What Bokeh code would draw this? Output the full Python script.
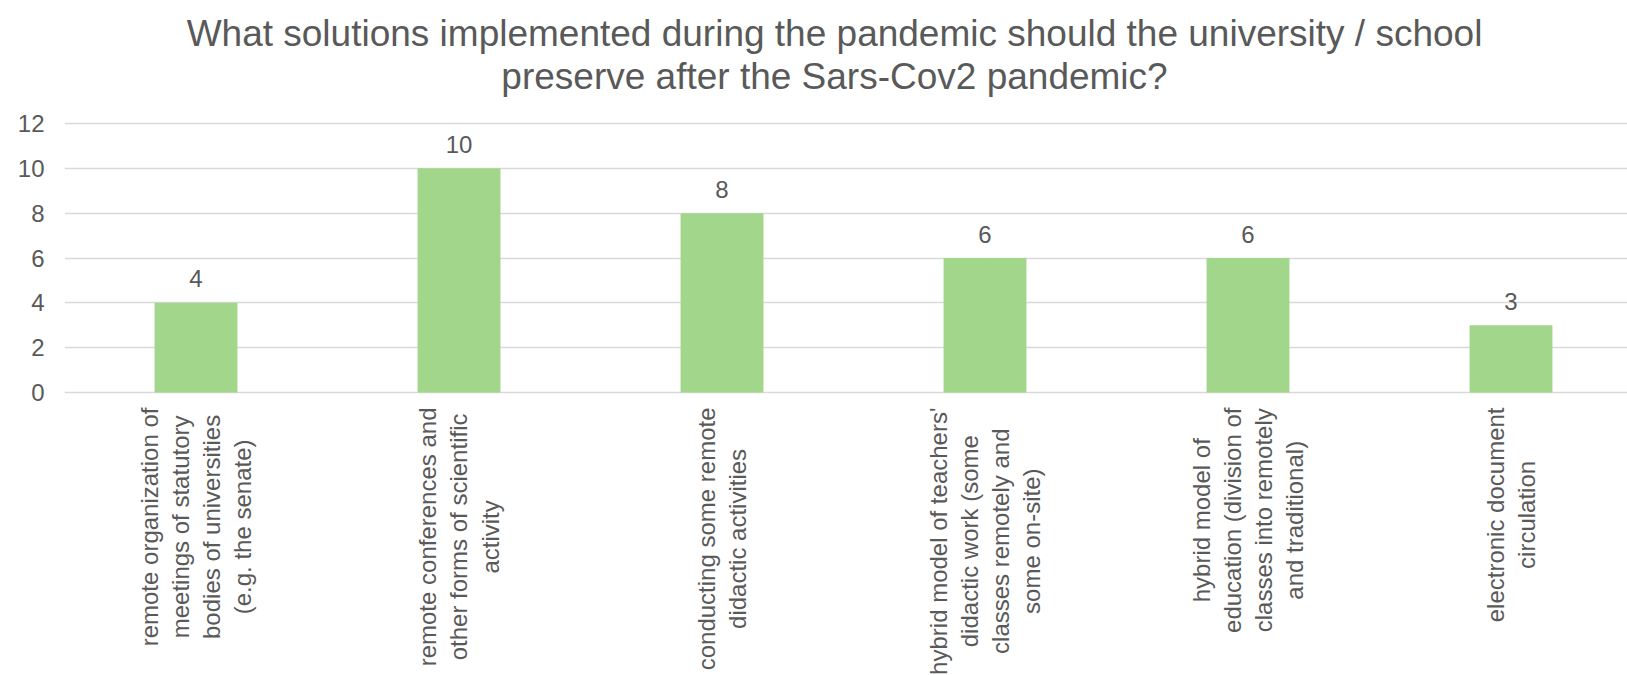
from bokeh.plotting import figure
from bokeh.models import ColumnDataSource, Range1d, FixedTicker
from bokeh.core.properties import value
from bokeh.embed import file_html
from bokeh.resources import INLINE
import math

title_lines = [
    "What solutions implemented during the pandemic should the university / school",
    "preserve after the Sars-Cov2 pandemic?",
]
categories = [
    "remote organization of\nmeetings of statutory\nbodies of universities\n(e.g. the senate)",
    "remote conferences and\nother forms of scientific\nactivity",
    "conducting some remote\ndidactic activities",
    "hybrid model of teachers'\ndidactic work (some\nclasses remotely and\nsome on-site)",
    "hybrid model of\neducation (division of\nclasses into remotely\nand traditional)",
    "electronic document\ncirculation",
]
values = [4, 10, 8, 6, 6, 3]
y_ticks = [0, 2, 4, 6, 8, 10, 12]

FONT = "Liberation Sans"
GRAY = "#595959"
W, H = 1627, 675
LEFT = 64
PLOT_TOP, PLOT_BOTTOM = 123, 392      # pixel rows of the 12 and 0 gridlines
CAT_PX = 263.0
frame_w = W - LEFT
ppu = (PLOT_BOTTOM - PLOT_TOP) / 12.0  # pixels per value unit
y_lo = -(H - PLOT_BOTTOM) / ppu
y_hi = PLOT_BOTTOM / ppu

def px_to_y(py):
    return (PLOT_BOTTOM - py) / ppu

def px_to_x(px):
    return (px - LEFT) / CAT_PX

p = figure(width=W, height=H, output_backend="svg", toolbar_location=None,
           x_range=Range1d(0, frame_w / CAT_PX), y_range=Range1d(y_lo, y_hi),
           min_border_left=LEFT, min_border_right=0, min_border_top=0,
           min_border_bottom=0, outline_line_color=None,
           background_fill_color="white", border_fill_color="white")

xs = [i + 0.5 for i in range(len(categories))]
src = ColumnDataSource(dict(x=xs, top=values, lab=[str(v) for v in values],
                            cat=categories, zero=[0] * len(values)))
p.vbar(x="x", top="top", width=0.315, source=src, fill_color="#A2D68A", line_color=None)

p.text(x="x", y="top", text="lab", source=src, y_offset=-24,
       text_align="center", text_baseline="alphabetic",
       text_font=value(FONT), text_font_size="24px", text_color=GRAY)

p.text(x="x", y="zero", text="cat", source=src, y_offset=15, angle=math.pi / 2,
       anchor=value("center_right"), text_align="center",
       text_font=value(FONT), text_font_size="24px", text_color=GRAY,
       text_line_height=1.15)

title_src = ColumnDataSource(dict(
    x=[px_to_x(834)] * len(title_lines),
    y=[px_to_y(32.5), px_to_y(76.2)],
    t=title_lines))
p.text(x="x", y="y", text="t", source=title_src, text_align="center",
       text_baseline="alphabetic", text_font=value(FONT), text_font_size="37px",
       text_color=GRAY)

p.xaxis.visible = False
p.xgrid.visible = False
p.yaxis.ticker = FixedTicker(ticks=y_ticks)
p.ygrid.ticker = FixedTicker(ticks=y_ticks)
p.ygrid.grid_line_color = "#D9D9D9"
p.ygrid.grid_line_width = 1.5
p.yaxis.axis_line_color = None
p.yaxis.major_tick_line_color = None
p.yaxis.minor_tick_line_color = None
p.yaxis.major_tick_out = 0
p.yaxis.major_label_standoff = 20
p.yaxis.major_label_text_font = FONT
p.yaxis.major_label_text_font_size = "24px"
p.yaxis.major_label_text_color = GRAY

open("out.html", "w").write(file_html(p, INLINE))
